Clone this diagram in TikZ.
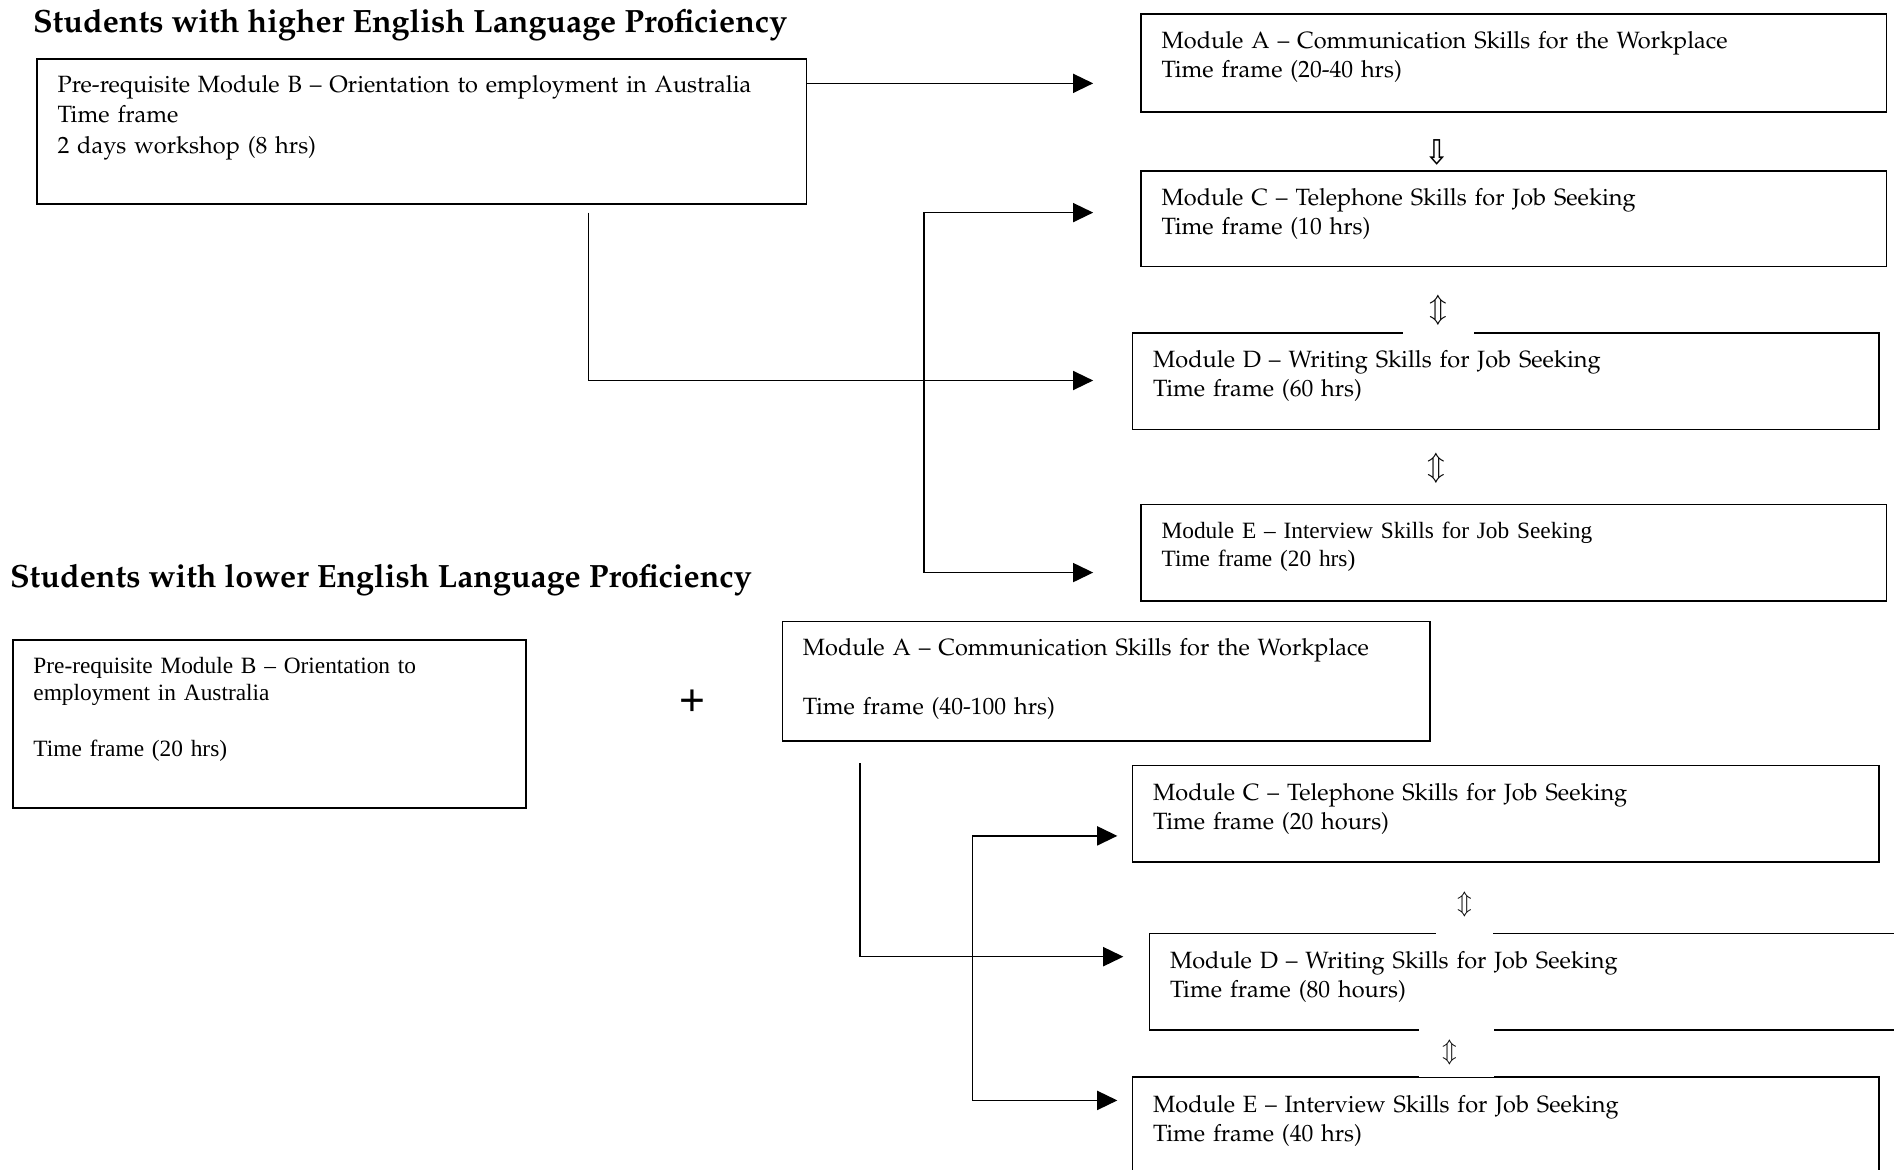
\documentclass[tikz,border=0pt]{standalone}
\usepackage[T1,TU]{fontenc}
\usepackage{fontspec}
\usepackage{graphicx}
\setmainfont{Liberation Serif}
\newfontfamily\plusfont{Liberation Sans}
\newfontfamily\symfont{DejaVu Sans}
\newcommand\palfont{\fontencoding{T1}\fontfamily{ppl}\selectfont}
\usetikzlibrary{arrows.meta}

\begin{document}
\begin{tikzpicture}[x=0.6pt,y=-0.6pt,
  modbox/.style={draw,line width=0.8pt,anchor=north west,inner xsep=10.2pt,inner ysep=0pt,align=left,text height=17.1pt},
  palbox/.style={modbox,font=\palfont\fontsize{11.7}{14.4}\selectfont},
  timesbox/.style={modbox,font=\fontsize{11.6}{13.8}\selectfont},
  heading/.style={anchor=base west,inner sep=0pt,font=\palfont\bfseries\fontsize{16}{19}\selectfont},
  swap/.style={fill=white,inner sep=0pt,font=\fontsize{14.4}{16}\selectfont},
  link/.style={line width=0.7pt},
  arr/.style={link,-{Triangle[length=10pt,width=9.5pt]}},
  twoarr/.style={link,{Triangle[length=10pt,width=9.5pt]}-{Triangle[length=10pt,width=9.5pt]}}]

\useasboundingbox (0,0) rectangle (1568,968);
\fill[white] (0,0) rectangle (1568,968);

\node[heading] (high) at (27,27) {Students with higher English Language Proficiency};
\node[palbox,text width=361.8pt,text height=16.8pt,text depth=55.2pt,font=\palfont\fontsize{11.7}{15}\selectfont] (preB1) at (30,48) {Pre-requisite Module B -- Orientation to employment in Australia\\Time frame\\2 days workshop (8 hrs)};
\node[palbox,text width=349.8pt,text depth=31.5pt] (a1) at (944,11) {Module A -- Communication Skills for the Workplace\\Time frame (20-40 hrs)};
\node[palbox,text width=349.8pt,text depth=30.3pt] (c1) at (944,141) {Module C -- Telephone Skills for Job Seeking\\Time frame (10 hrs)};
\node[palbox,text width=350.4pt,text depth=30.9pt] (d1) at (937,275) {Module D -- Writing Skills for Job Seeking\\Time frame (60 hrs)};
\node[timesbox,text width=349.8pt,text depth=30.9pt] (e1) at (944,417) {Module E -- Interview Skills for Job Seeking\\Time frame (20 hrs)};

\node[heading] (low) at (8,486) {Students with lower English Language Proficiency};
\node[timesbox,text width=234.6pt,text height=16.5pt,text depth=66.9pt,font=\fontsize{11.6}{13.5}\selectfont] (preB2) at (10,529) {Pre-requisite Module B -- Orientation to\\employment in Australia\\[14.7pt]Time frame (20 hrs)};
\node[inner sep=0pt,font=\plusfont\fontsize{22}{24}\selectfont] (plus) at (573,582) {+};
\node[palbox,text width=301.2pt,text height=16.8pt,text depth=42.6pt] (a2) at (647,514) {Module A -- Communication Skills for the Workplace\\[15pt]Time frame (40-100 hrs)};
\node[palbox,text width=350.4pt,text height=17.4pt,text depth=30.6pt] (c2) at (937,633) {Module C -- Telephone Skills for Job Seeking\\Time frame (20 hours)};
\node[palbox,text width=349.8pt,text height=17.4pt,text depth=30.6pt] (d2) at (951,772) {Module D -- Writing Skills for Job Seeking\\Time frame (80 hours)};
\node[palbox,text width=350.4pt,text height=17.4pt,text depth=30.6pt] (e2) at (937,891) {Module E -- Interview Skills for Job Seeking\\Time frame (40 hrs)};

\node[inner sep=0pt,font=\symfont\fontsize{20}{22}\selectfont] (ac1) at (1190,126) {\scalebox{0.75}[0.85]{⇩}};
\node[swap,minimum width=35.4pt,minimum height=24pt] (cd1) at (1191,257) {$\Updownarrow$};
\node[swap] (de1) at (1189,388) {$\Updownarrow$};
\node[swap,font=\fontsize{12}{14}\selectfont,minimum width=28.2pt,minimum height=29.4pt] (cd2) at (1212.5,748.5) {$\Updownarrow$};
\node[swap,font=\fontsize{12}{14}\selectfont,minimum width=37.2pt,minimum height=24.6pt] (de2) at (1206,871.5) {\hspace{-7.2pt}$\Updownarrow$};

\draw[arr,shorten >=23.4pt] (preB1.east |- 0,69) -- (a1.west |- 0,69);
\coordinate (j1) at (487,176);
\draw[arr,shorten >=19.2pt] (j1) |- (d1.west |- 0,315);
\draw[twoarr,shorten <=23.4pt,shorten >=23.4pt] (c1.west |- 0,176) -- (765,176) |- (e1.west |- 0,474);

\coordinate (j2) at (712,632);
\draw[arr,shorten >=12.6pt] (j2) |- (d2.west |- 0,792);
\draw[twoarr,shorten <=7.2pt,shorten >=7.2pt] (c2.west |- 0,692) -- (805,692) |- (e2.west |- 0,911);

\end{tikzpicture}
\end{document}
